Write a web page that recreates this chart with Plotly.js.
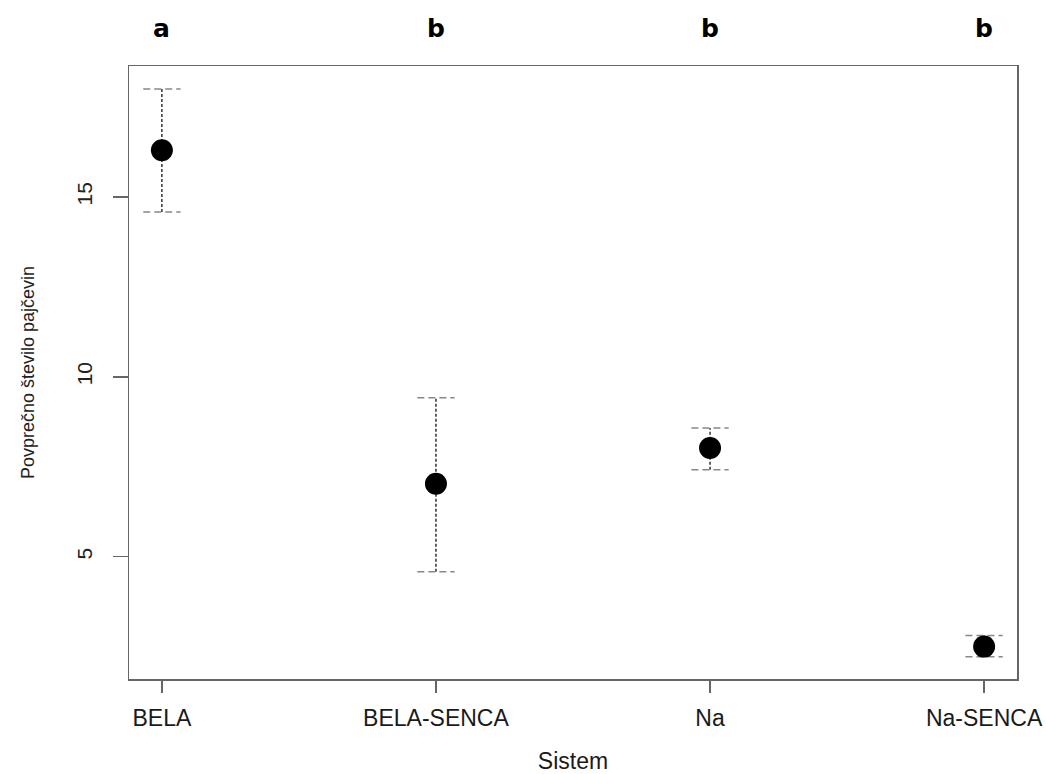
<!DOCTYPE html>
<html>
<head>
<meta charset="utf-8">
<script src="https://cdn.plot.ly/plotly-3.0.1.min.js"></script>
<style>html,body{margin:0;padding:0;background:#fff;}#chart{width:1046px;height:774px;}</style>
</head>
<body>
<div id="chart"></div>
<script>
const categories = ["BELA", "BELA-SENCA", "Na", "Na-SENCA"];
const means = [16.3, 7.03, 8.02, 2.5];
const upper = [18.0, 9.42, 8.58, 2.81];
const lower = [14.58, 4.58, 7.42, 2.22];
const groupLetters = ["a", "b", "b", "b"];
const yTicks = [5, 10, 15];

const xpos = categories.map((c, i) => i + 1);
const capHalf = 0.068;

// vertical dotted whiskers
const vx = [], vy = [];
xpos.forEach((x, i) => { vx.push(x, x, null); vy.push(lower[i], upper[i], null); });
// dashed caps
const cx = [], cy = [];
xpos.forEach((x, i) => {
  cx.push(x - capHalf, x + capHalf, null); cy.push(upper[i], upper[i], null);
  cx.push(x - capHalf, x + capHalf, null); cy.push(lower[i], lower[i], null);
});

const traces = [
  {x: vx, y: vy, mode: "lines", line: {color: "#111", width: 1.3, dash: "3px,2px"}, hoverinfo: "skip", showlegend: false},
  {x: cx, y: cy, mode: "lines", line: {color: "#888", width: 1.5, dash: "7px,4px"}, hoverinfo: "skip", showlegend: false},
  {x: xpos, y: means, mode: "markers", marker: {color: "#000", size: 22, symbol: "circle"}, showlegend: false}
];

const annotations = groupLetters.map((t, i) => ({
  x: xpos[i], xref: "x", y: 1 + (66 - 28) / 613, yref: "paper", yanchor: "middle",
  text: t, showarrow: false, font: {family: "DejaVu Sans, Arial", size: 25, color: "#000", weight: "bold"}
}));

const layout = {
  width: 1046, height: 774,
  margin: {l: 129, r: 29, t: 66, b: 95},
  paper_bgcolor: "#fff", plot_bgcolor: "#fff",
  xaxis: {
    range: [0.88, 4.12], tickvals: xpos, ticktext: categories,
    showgrid: false, zeroline: false,
    showline: true, mirror: true, linecolor: "#666", linewidth: 1.5,
    ticks: "outside", ticklen: 12, tickcolor: "#666", tickwidth: 1.5,
    ticklabelstandoff: 6,
    tickfont: {family: "Liberation Sans, Arial", size: 23, color: "#1a1a1a"},
    title: {text: "Sistem", font: {family: "Liberation Sans, Arial", size: 23, color: "#1a1a1a"}, standoff: 24}
  },
  yaxis: {
    range: [1.6, 18.64], tickvals: yTicks, ticktext: yTicks.map(String),
    showgrid: false, zeroline: false,
    showline: true, mirror: true, linecolor: "#666", linewidth: 1.5,
    ticks: "outside", ticklen: 15, tickcolor: "#666", tickwidth: 1.5,
    tickangle: -90, ticklabelstandoff: 12,
    tickfont: {family: "Liberation Sans Narrow, Liberation Sans, Arial", size: 21, color: "#222"},
    title: {text: "Povprečno število pajčevin", font: {family: "Liberation Sans Narrow, Liberation Sans, Arial", size: 18, color: "#222"}, standoff: 34}
  },
  annotations: annotations
};

Plotly.newPlot("chart", traces, layout, {displayModeBar: false, staticPlot: true});
</script>
</body>
</html>
